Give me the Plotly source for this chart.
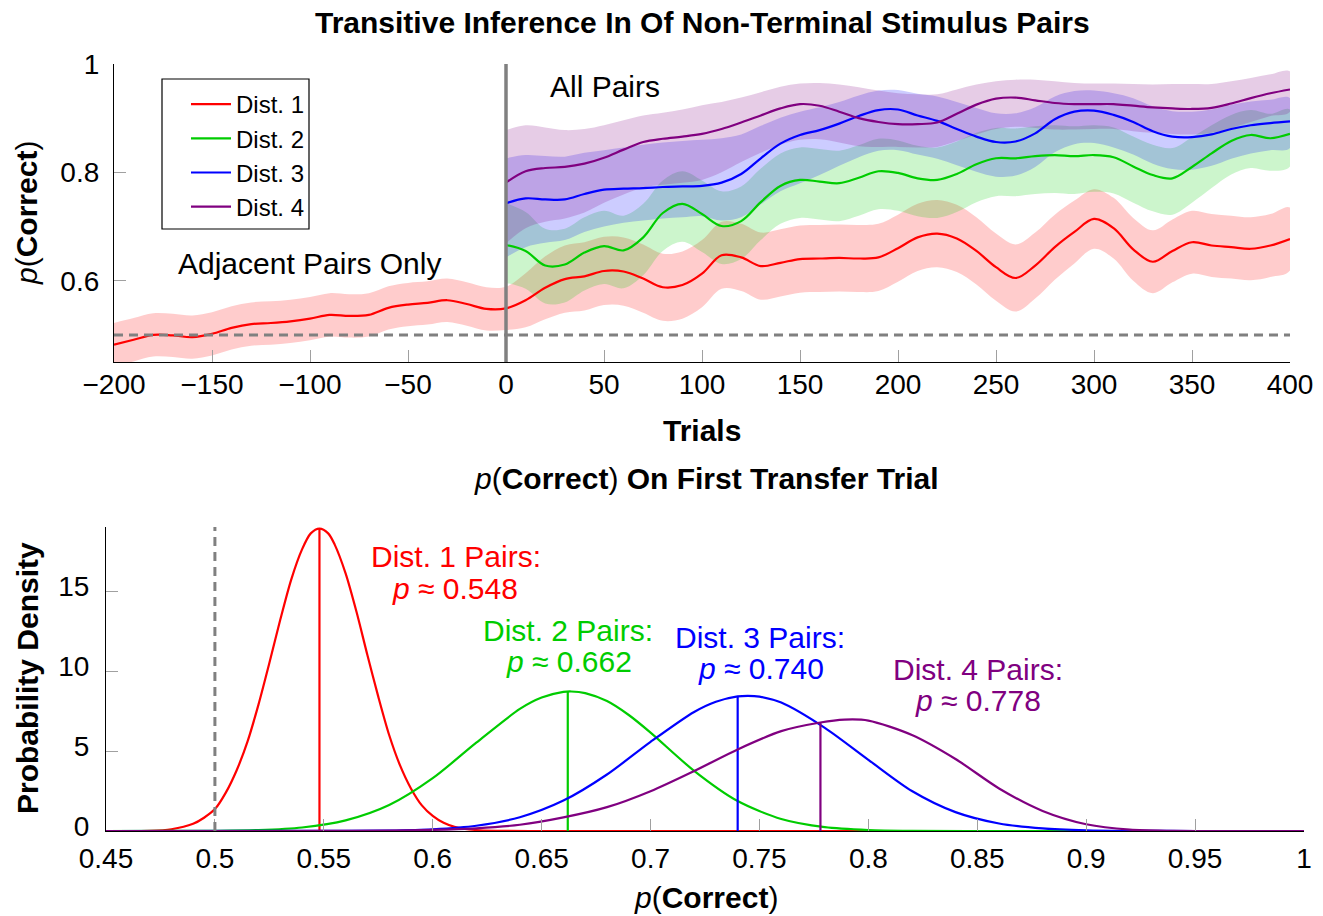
import numpy as np
import plotly.graph_objects as go

# ---------------- data: top panel ----------------
series_names = ["Dist. 1", "Dist. 2", "Dist. 3", "Dist. 4"]
series_colors = ["rgb(255,0,0)", "rgb(0,204,0)", "rgb(0,0,255)", "rgb(128,0,128)"]
band_colors = ["rgba(255,0,0,0.2)", "rgba(0,204,0,0.2)", "rgba(0,0,255,0.2)", "rgba(128,0,128,0.2)"]

pre_trials = list(range(-200, 0, 10))
post_trials = list(range(0, 401, 10))

red_pre = [0.482, 0.491, 0.500, 0.499, 0.496, 0.502, 0.513, 0.520, 0.522, 0.525,
           0.530, 0.537, 0.535, 0.537, 0.550, 0.556, 0.559, 0.564, 0.557, 0.548]
red_pre_hw = [0.040, 0.040, 0.040, 0.040, 0.040, 0.040, 0.040, 0.040, 0.040, 0.040,
              0.040, 0.040, 0.040, 0.040, 0.040, 0.040, 0.040, 0.040, 0.040, 0.040]

red_post = [0.549, 0.564, 0.587, 0.603, 0.608, 0.618, 0.617, 0.604, 0.588, 0.592,
            0.613, 0.647, 0.643, 0.627, 0.633, 0.640, 0.641, 0.642, 0.641, 0.643,
            0.660, 0.680, 0.687, 0.678, 0.655, 0.625, 0.605, 0.628, 0.662, 0.690,
            0.714, 0.697, 0.658, 0.635, 0.655, 0.671, 0.665, 0.662, 0.659, 0.665, 0.677]
red_post_hw = [0.040, 0.050, 0.058, 0.062, 0.063, 0.063, 0.063, 0.063, 0.062, 0.062,
               0.062, 0.062, 0.062, 0.062, 0.062, 0.062, 0.062, 0.062, 0.062, 0.062,
               0.062, 0.062, 0.062, 0.062, 0.062, 0.062, 0.062, 0.061, 0.060, 0.058,
               0.055, 0.056, 0.058, 0.058, 0.058, 0.058, 0.058, 0.058, 0.058, 0.058, 0.058]

green_post = [0.666, 0.655, 0.628, 0.630, 0.652, 0.664, 0.656, 0.680, 0.725, 0.742,
              0.723, 0.701, 0.710, 0.745, 0.775, 0.786, 0.783, 0.780, 0.790, 0.802,
              0.799, 0.789, 0.786, 0.797, 0.815, 0.826, 0.826, 0.830, 0.832, 0.830,
              0.832, 0.828, 0.811, 0.795, 0.789, 0.810, 0.835, 0.858, 0.869, 0.863, 0.871]
green_hw_lo = [0.070, 0.070, 0.070, 0.070, 0.070, 0.070, 0.070, 0.070, 0.070, 0.070,
               0.070, 0.070, 0.070, 0.070, 0.070, 0.070, 0.070, 0.070, 0.070, 0.070,
               0.070, 0.070, 0.070, 0.070, 0.070, 0.070, 0.070, 0.070, 0.070, 0.070,
               0.068, 0.067, 0.067, 0.067, 0.067, 0.066, 0.064, 0.062, 0.061, 0.060, 0.060]
green_hw_hi = [0.077, 0.072, 0.068, 0.066, 0.065, 0.065, 0.064, 0.062, 0.060, 0.060,
               0.062, 0.064, 0.064, 0.062, 0.060, 0.060, 0.060, 0.060, 0.060, 0.060,
               0.060, 0.060, 0.060, 0.060, 0.058, 0.056, 0.055, 0.055, 0.055, 0.055,
               0.055, 0.055, 0.055, 0.056, 0.056, 0.055, 0.052, 0.048, 0.046, 0.045, 0.045]

blue_post = [0.743, 0.752, 0.750, 0.750, 0.760, 0.768, 0.770, 0.771, 0.773, 0.774,
             0.775, 0.781, 0.797, 0.826, 0.853, 0.869, 0.878, 0.890, 0.904, 0.915,
             0.916, 0.905, 0.895, 0.880, 0.866, 0.856, 0.857, 0.872, 0.898, 0.912,
             0.914, 0.906, 0.893, 0.876, 0.866, 0.865, 0.870, 0.880, 0.887, 0.891, 0.894]
blue_hw_lo = [0.100, 0.090, 0.080, 0.075, 0.070, 0.068, 0.063, 0.060, 0.058, 0.057,
              0.056, 0.070, 0.080, 0.085, 0.088, 0.089, 0.083, 0.078, 0.076, 0.075,
              0.075, 0.072, 0.070, 0.067, 0.065, 0.064, 0.063, 0.062, 0.061, 0.060,
              0.060, 0.060, 0.060, 0.060, 0.060, 0.060, 0.058, 0.055, 0.052, 0.050, 0.049]
blue_hw_hi = [0.083, 0.080, 0.080, 0.079, 0.076, 0.073, 0.076, 0.080, 0.082, 0.084,
              0.085, 0.082, 0.073, 0.060, 0.048, 0.043, 0.042, 0.040, 0.038, 0.036,
              0.036, 0.040, 0.045, 0.050, 0.053, 0.053, 0.052, 0.048, 0.042, 0.038,
              0.037, 0.040, 0.044, 0.046, 0.047, 0.047, 0.046, 0.045, 0.044, 0.043, 0.043]

purple_post = [0.781, 0.802, 0.808, 0.810, 0.816, 0.827, 0.842, 0.856, 0.862, 0.866,
               0.871, 0.880, 0.892, 0.905, 0.918, 0.926, 0.923, 0.912, 0.900, 0.893,
               0.889, 0.889, 0.892, 0.908, 0.925, 0.936, 0.938, 0.933, 0.928, 0.926,
               0.926, 0.926, 0.923, 0.920, 0.918, 0.917, 0.919, 0.927, 0.937, 0.946, 0.953]
purple_hw_lo = [0.112, 0.105, 0.099, 0.095, 0.090, 0.083, 0.083, 0.084, 0.085, 0.085,
                0.085, 0.080, 0.073, 0.069, 0.067, 0.066, 0.062, 0.057, 0.052, 0.046,
                0.042, 0.043, 0.045, 0.050, 0.055, 0.056, 0.054, 0.051, 0.049, 0.047,
                0.046, 0.046, 0.047, 0.047, 0.047, 0.047, 0.046, 0.045, 0.044, 0.042, 0.041]
purple_hw_hi = [0.097, 0.085, 0.075, 0.068, 0.064, 0.060, 0.054, 0.049, 0.048, 0.050,
                0.053, 0.050, 0.046, 0.043, 0.040, 0.038, 0.042, 0.050, 0.057, 0.058,
                0.057, 0.055, 0.052, 0.045, 0.037, 0.032, 0.033, 0.038, 0.040, 0.039,
                0.038, 0.038, 0.040, 0.042, 0.045, 0.046, 0.044, 0.041, 0.037, 0.035, 0.033]

switch_trial = 0
chance = 0.5

# ---------------- data: bottom panel ----------------
red_px = [0.45, 0.47, 0.48, 0.49, 0.495, 0.50, 0.505, 0.51, 0.515, 0.52, 0.525, 0.53, 0.535,
          0.54, 0.544, 0.548, 0.552, 0.555, 0.56, 0.565, 0.57, 0.575, 0.58, 0.585, 0.59,
          0.595, 0.60, 0.605, 0.61, 0.62, 0.63, 0.65, 0.70, 0.80, 1.0]
red_pd = [0.0, 0.01, 0.11, 0.45, 0.83, 1.37, 2.4, 3.8, 5.6, 7.9, 10.5, 13.2, 15.7,
          17.6, 18.6, 18.9, 18.6, 17.9, 16.1, 13.7, 11.0, 8.4, 6.0, 4.1, 2.66,
          1.6, 0.94, 0.51, 0.26, 0.06, 0.01, 0.0, 0.0, 0.0, 0.0]

green_px = [0.45, 0.48, 0.50, 0.52, 0.54, 0.56, 0.58, 0.60, 0.62, 0.64, 0.65, 0.66, 0.6636,
            0.67, 0.68, 0.69, 0.70, 0.72, 0.74, 0.76, 0.78, 0.80, 0.82, 0.85, 1.0]
green_pd = [0.0, 0.002, 0.014, 0.06, 0.22, 0.66, 1.62, 3.3, 5.52, 7.63, 8.34, 8.69, 8.72,
            8.62, 8.12, 7.25, 6.15, 3.76, 1.87, 0.75, 0.24, 0.064, 0.013, 0.0, 0.0]

blue_px = [0.45, 0.55, 0.58, 0.60, 0.62, 0.64, 0.66, 0.68, 0.70, 0.72, 0.73, 0.74, 0.7447,
           0.75, 0.76, 0.78, 0.80, 0.82, 0.84, 0.86, 0.88, 0.90, 0.92, 0.95, 1.0]
blue_pd = [0.0, 0.003, 0.03, 0.11, 0.33, 0.86, 1.9, 3.53, 5.57, 7.44, 8.08, 8.41, 8.45,
           8.40, 8.03, 6.45, 4.45, 2.5, 1.18, 0.47, 0.16, 0.045, 0.01, 0.0, 0.0]

purple_px = [0.45, 0.50, 0.55, 0.58, 0.60, 0.62, 0.64, 0.66, 0.68, 0.70, 0.72, 0.74, 0.76,
             0.778, 0.789, 0.80, 0.82, 0.84, 0.86, 0.88, 0.90, 0.92, 0.94, 0.96, 1.0]
purple_pd = [0.0, 0.001, 0.004, 0.024, 0.067, 0.17, 0.39, 0.85, 1.49, 2.49, 3.75, 5.1, 6.24,
             6.78, 6.96, 6.9, 6.0, 4.5, 2.66, 1.25, 0.42, 0.08, 0.01, 0.0, 0.0]

first_trial_p = [0.548, 0.662, 0.740, 0.778]
first_trial_labels = ["0.548", "0.662", "0.740", "0.778"]

x2_tickvals = [0.45, 0.5, 0.55, 0.6, 0.65, 0.7, 0.75, 0.8, 0.85, 0.9, 0.95, 1.0]
x2_ticktext = ["0.45", "0.5", "0.55", "0.6", "0.65", "0.7", "0.75", "0.8", "0.85", "0.9", "0.95", "1"]

# ---------------- figure ----------------
FONT = "Liberation Sans"
W, H = 1323, 916

fig = go.Figure()

red_t = pre_trials + post_trials
red_mean = red_pre + red_post
red_hw = red_pre_hw + red_post_hw

tops = [
    (red_t, red_mean, red_hw, red_hw),
    (post_trials, green_post, green_hw_lo, green_hw_hi),
    (post_trials, blue_post, blue_hw_lo, blue_hw_hi),
    (post_trials, purple_post, purple_hw_lo, purple_hw_hi),
]

# bands
for i, (t, m, lo_hw, hi_hw) in enumerate(tops):
    m = np.array(m)
    lo = m - np.array(lo_hw)
    hi = m + np.array(hi_hw)
    xs = list(t) + list(t)[::-1]
    ys = list(hi) + list(lo)[::-1]
    fig.add_trace(go.Scatter(x=xs, y=ys, fill="toself", fillcolor=band_colors[i],
                             mode="lines", line=dict(width=0, shape="spline", smoothing=1.0),
                             hoverinfo="skip", showlegend=False, xaxis="x", yaxis="y"))
# lines
for i, (t, m, lo_hw, hi_hw) in enumerate(tops):
    fig.add_trace(go.Scatter(x=t, y=m, mode="lines", name=series_names[i],
                             line=dict(color=series_colors[i], width=2.2, shape="spline", smoothing=1.0),
                             showlegend=True, xaxis="x", yaxis="y"))

# bottom panel
dens = [(red_px, red_pd), (green_px, green_pd), (blue_px, blue_pd), (purple_px, purple_pd)]
for i, (px_, pd_) in enumerate(dens):
    fig.add_trace(go.Scatter(x=px_, y=pd_, mode="lines",
                             line=dict(color=series_colors[i], width=2.2, shape="spline", smoothing=0.8),
                             showlegend=False, xaxis="x2", yaxis="y2"))
    p = first_trial_p[i]
    h = float(np.interp(p, px_, pd_))
    fig.add_trace(go.Scatter(x=[p, p], y=[0, h], mode="lines",
                             line=dict(color=series_colors[i], width=2.2),
                             showlegend=False, xaxis="x2", yaxis="y2"))

axis_common = dict(showline=True, linecolor="black", linewidth=1.2, ticks="inside", ticklen=12,
                   tickcolor="#a0a0a0", tickwidth=1.2, showgrid=False, zeroline=False,
                   automargin=False,
                   tickfont=dict(family=FONT, size=28, color="black"))

fig.update_layout(
    width=W, height=H,
    margin=dict(l=0, r=0, t=0, b=0, autoexpand=False),
    paper_bgcolor="white", plot_bgcolor="white",
    font=dict(family=FONT, color="black"),
    xaxis=dict(domain=[114 / W, 1290 / W], range=[-200, 400], anchor="y",
               tickvals=list(range(-200, 401, 50)), ticklabelstandoff=-3, **axis_common),
    yaxis=dict(domain=[1 - 362 / H, 1 - 64 / H], range=[0.45, 1.0], anchor="x",
               tickvals=[0.6, 0.8, 1.0], ticktext=["0.6", "0.8", "1"], ticklabelstandoff=8,
               **axis_common),
    xaxis2=dict(domain=[106 / W, 1304 / W], range=[0.45, 1.0], anchor="y2",
                tickvals=x2_tickvals, ticktext=x2_ticktext, ticklabelstandoff=2, **axis_common),
    yaxis2=dict(domain=[1 - 831 / H, 1 - 527 / H], range=[0, 19], anchor="x2",
                tickvals=[0, 5, 10, 15], ticklabelstandoff=10, ticklabelshift=-5, **axis_common),
    legend=dict(x=186 / W, y=1 - 82 / H, xanchor="left", yanchor="top",
                borderwidth=0, bgcolor="rgba(255,255,255,0)",
                font=dict(family=FONT, size=24, color="black"), itemwidth=40),
    showlegend=True,
)

shapes = [
    dict(type="rect", xref="paper", yref="paper", x0=162 / W, x1=309 / W,
         y0=1 - 229 / H, y1=1 - 79 / H, line=dict(color="black", width=1.2),
         fillcolor="white", layer="above"),
    dict(type="line", xref="x", yref="y domain", x0=switch_trial, x1=switch_trial, y0=0, y1=1,
         line=dict(color="#808080", width=3.5)),
    dict(type="line", xref="x domain", yref="y", x0=0, x1=1, y0=chance, y1=chance,
         line=dict(color="#808080", width=3, dash="9px,6px")),
    dict(type="line", xref="x2", yref="y2 domain", x0=chance, x1=chance, y0=0, y1=1,
         line=dict(color="#808080", width=3, dash="9px,6px")),
]
fig.update_layout(shapes=shapes)

def ann(text, x, y, size=30, color="black", xanchor="center", angle=0):
    return dict(text=text, x=x, y=y, xref="paper", yref="paper", showarrow=False,
                xanchor=xanchor, yanchor="middle", textangle=angle,
                font=dict(family=FONT, size=size, color=color))

annotations = [
    ann("<b>Transitive Inference In Of Non-Terminal Stimulus Pairs</b>", 702 / W, 1 - 22 / H, size=30),
    ann("<b>Trials</b>", 702 / W, 1 - 430 / H, size=30),
    ann("<i>p</i>(<b>Correct</b>)", 27 / W, 1 - 213 / H, size=30, angle=-90),
    ann("Adjacent Pairs Only", 176 / W, 1 - 263 / H, size=30, xanchor="left"),
    ann("All Pairs", 548 / W, 1 - 86 / H, size=30, xanchor="left"),
    ann("<i>p</i>(<b>Correct</b>) <b>On First Transfer Trial</b>", 706 / W, 1 - 478 / H, size=30),
    ann("<i>p</i>(<b>Correct</b>)", 706 / W, 1 - 897 / H, size=30),
    ann("<b>Probability Density</b>", 27 / W, 1 - 678 / H, size=30, angle=-90),
]
label_line1 = [(456, 556), (568, 630), (760, 637), (978, 669)]
label_line2 = [(455, 588), (569, 661), (761, 668), (978, 700)]
for i in range(4):
    x1, y1 = label_line1[i]
    x2, y2 = label_line2[i]
    annotations.append(ann(f"Dist. {i + 1} Pairs:", x1 / W, 1 - y1 / H, size=30,
                           color=series_colors[i]))
    annotations.append(ann(f"<i>p</i> ≈ {first_trial_labels[i]}", x2 / W, 1 - y2 / H, size=30,
                           color=series_colors[i]))
fig.update_layout(annotations=annotations)

fig.write_html("out.html")
